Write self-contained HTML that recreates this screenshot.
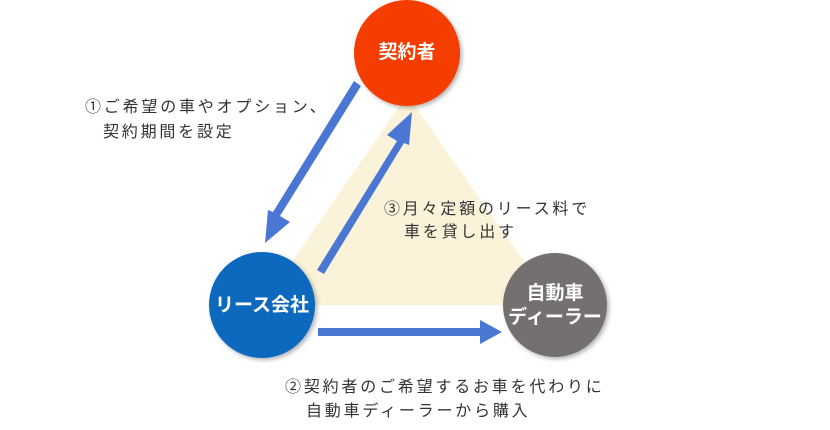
<!DOCTYPE html>
<html><head><meta charset="utf-8"><style>
body{margin:0;background:#fff}
svg{display:block}
text{font-family:"Liberation Sans","Noto Sans CJK JP",sans-serif}
</style></head><body>
<svg width="830" height="430" viewBox="0 0 830 430" xmlns="http://www.w3.org/2000/svg">
<defs>
<filter id="sh" x="-20%" y="-20%" width="150%" height="150%"><feDropShadow dx="2" dy="2" stdDeviation="2" flood-color="#000" flood-opacity="0.3"/></filter>
</defs>
<polygon points="407,95 262,305 555,305" fill="#fbf3d9"/>
<circle cx="407" cy="53" r="53" fill="#f53c05" filter="url(#sh)"/>
<circle cx="262" cy="305" r="53" fill="#0769bd" filter="url(#sh)"/>
<circle cx="555" cy="305" r="52" fill="#747070" filter="url(#sh)"/>
<g fill="#4a77d4">
<polygon points="354,81 361,86 280,216 290,222 265,243 268,210 273,212"/>
<polygon points="324,274 317,270 397,141 387,135 412,112 409,145 404,143"/>
<polygon points="318,328 480,328 480,320 502,332 480,344 480,336 318,336"/>
</g>
<g fill="#fff" font-weight="bold" font-size="19" text-anchor="middle">
<text x="407" y="58">契約者</text>
<text x="262" y="311">リース会社</text>
<text x="555" y="299">自動車</text>
<text x="555" y="323">ディーラー</text>
</g>
<g fill="#333" font-size="16" letter-spacing="2.8">
<text x="85" y="112">①ご希望の車やオプション、</text>
<text x="103" y="137">契約期間を設定</text>
<text x="384" y="214">③月々定額のリース料で</text>
<text x="404" y="237">車を貸し出す</text>
<text x="285" y="392">②契約者のご希望するお車を代わりに</text>
<text x="306" y="416">自動車ディーラーから購入</text>
</g>
</svg>
</body></html>
